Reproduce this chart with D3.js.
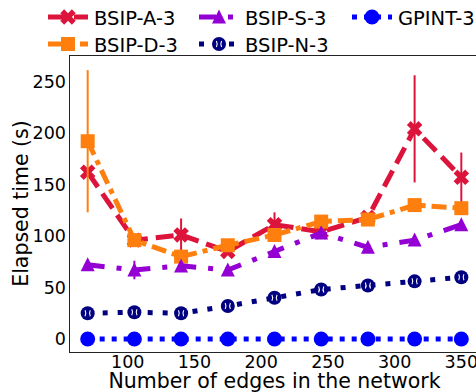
<!DOCTYPE html>
<html>
<head>
<meta charset="utf-8">
<script src="https://cdn.jsdelivr.net/npm/d3@7"></script>
<style>
  html, body { margin: 0; padding: 0; background: #fff; }
  svg { display: block; font-family: "DejaVu Sans", sans-serif; }
</style>
</head>
<body>
<div id="chart"></div>
<script>
// values
var edges = [70, 105, 140, 175, 210, 245, 280, 315, 350];
var bsipA = [162, 96, 101, 85, 111, 104, 118, 204, 157];
var bsipAErr = [0, 4, 16, 3, 12, 6, 3, 52, 24];
var bsipD = [192, 96, 80, 91, 101, 114, 116, 130, 127];
var bsipDErr = [69, 3, 3, 2, 3, 3, 3, 3, 3];
var bsipS = [72, 67, 71, 67, 85, 103, 89, 96, 111];
var bsipSErr = [4, 9, 4, 2, 2, 6, 5, 3, 3];
var bsipN = [25, 26, 25, 32, 40, 48, 52, 56, 60];
var bsipNErr = [1, 1, 1, 1, 1, 1, 1, 1, 1];
var gpint = [0, 0, 0, 0, 0, 0, 0, 0, 0];
var gpintErr = [0, 0, 0, 0, 0, 0, 0, 0, 0];

var xTicks = [100, 150, 200, 250, 300, 350];
var yTicks = [0, 50, 100, 150, 200, 250];

var series = [
  {name: "BSIP-A-3", vals: bsipA, err: bsipAErr, color: "#DC143C", dash: "18,8", marker: "x"},
  {name: "BSIP-D-3", vals: bsipD, err: bsipDErr, color: "#FF7F0E", dash: "15,6,5,6", marker: "square"},
  {name: "BSIP-S-3", vals: bsipS, err: bsipSErr, color: "#9400D3", dash: "17,12,5,12", marker: "triangle"},
  {name: "BSIP-N-3", vals: bsipN, err: bsipNErr, color: "#000080", dash: "5,10", marker: "ocirc"},
  {name: "GPINT-3", vals: gpint, err: gpintErr, color: "#0000FF", dash: "5,7", marker: "circle"}
];

var width = 476, height = 392;
var plot = {left: 69, right: 480, top: 55, bottom: 352};

var svg = d3.select("#chart")
  .append("svg")
    .attr("width", width)
    .attr("height", height);

var x = d3.scaleLinear().domain([56, 364]).range([plot.left, plot.right]),
    y = d3.scaleLinear().domain([-12.6, 275.7]).range([plot.bottom, plot.top]);

// frame
svg.append("rect")
  .attr("x", plot.left + 0.5)
  .attr("y", plot.top + 0.5)
  .attr("width", plot.right - plot.left)
  .attr("height", plot.bottom - plot.top)
  .attr("fill", "none")
  .attr("stroke", "#222")
  .attr("stroke-width", 1);

// tick labels
svg.selectAll(".xtick")
  .data(xTicks)
.enter().append("text")
  .attr("x", d => x(d))
  .attr("y", 368)
  .attr("text-anchor", "middle")
  .attr("font-size", 17.5)
  .text(d => d);

svg.selectAll(".ytick")
  .data(yTicks)
.enter().append("text")
  .attr("x", 66)
  .attr("y", d => y(d))
  .attr("dy", "0.36em")
  .attr("text-anchor", "end")
  .attr("font-size", 17.5)
  .text(d => d);

svg.append("text")
  .attr("x", (plot.left + 476) / 2 + 2)
  .attr("y", 388)
  .attr("text-anchor", "middle")
  .attr("font-size", 20.5)
  .text("Number of edges in the network");

svg.append("text")
  .attr("transform", `translate(28,${(plot.top + plot.bottom) / 2}) rotate(-90)`)
  .attr("text-anchor", "middle")
  .attr("font-size", 20.5)
  .text("Elapsed time (s)");

function markerPath(type) {
  switch (type) {
    case "x":
      return d3.symbol().type(d3.symbolCross).size(150)();
    case "square":
      return "M-7,-7H7V7H-7Z";
    case "triangle":
      return "M0,-7.5L7,6.5L-7,6.5Z";
    case "ocirc":
      return d3.symbol().type(d3.symbolCircle).size(Math.PI * 49)();
    case "circle":
      return d3.symbol().type(d3.symbolCircle).size(Math.PI * 56)();
  }
}

function drawMarker(g, s) {
  g.append("path")
    .attr("d", markerPath(s.marker))
    .attr("fill", s.color)
    .attr("transform", s.marker === "x" ? "rotate(45)" : null);
  if (s.marker === "ocirc") {
    g.append("path")
      .attr("d", "M-2.6,-3Q-1,0 -2.6,3M2.6,-3Q1,0 2.6,3")
      .attr("fill", "none")
      .attr("stroke", "#fff")
      .attr("stroke-width", 1.1);
  }
}

var line = d3.line()
  .x(d => x(d[0]))
  .y(d => y(d[1]));

series.forEach(function(s) {
  var pts = edges.map((e, i) => [e, s.vals[i], s.err[i]]);
  var g = svg.append("g");

  g.selectAll(".err")
    .data(pts.filter(d => d[2] > 0))
  .enter().append("line")
    .attr("x1", d => x(d[0]))
    .attr("x2", d => x(d[0]))
    .attr("y1", d => y(d[1] - d[2]))
    .attr("y2", d => y(d[1] + d[2]))
    .attr("stroke", s.color)
    .attr("stroke-width", 2);

  g.append("path")
    .datum(pts)
    .attr("d", line)
    .attr("fill", "none")
    .attr("stroke", s.color)
    .attr("stroke-width", 5)
    .attr("stroke-dasharray", s.dash);

  g.selectAll(".mk")
    .data(pts)
  .enter().append("g")
    .attr("transform", d => `translate(${x(d[0])},${y(d[1])})`)
    .each(function() { drawMarker(d3.select(this), s); });
});

// legend: column-wise, 2 rows
var legendCols = [48, 199, 352];
var legendRows = [17, 44];
series.forEach(function(s, i) {
  var col = Math.floor(i / 2), row = i % 2;
  var x0 = legendCols[col], yy = legendRows[row];
  var lg = svg.append("g");
  lg.append("line")
    .attr("x1", x0)
    .attr("x2", x0 + 40)
    .attr("y1", yy)
    .attr("y2", yy)
    .attr("stroke", s.color)
    .attr("stroke-width", 5)
    .attr("stroke-dasharray", s.dash);
  var mg = lg.append("g").attr("transform", `translate(${x0 + 20},${yy})`);
  drawMarker(mg, s);
  lg.append("text")
    .attr("x", x0 + 46)
    .attr("y", yy + 7.5)
    .attr("font-size", 19.5)
    .text(s.name);
});
</script>
</body>
</html>
